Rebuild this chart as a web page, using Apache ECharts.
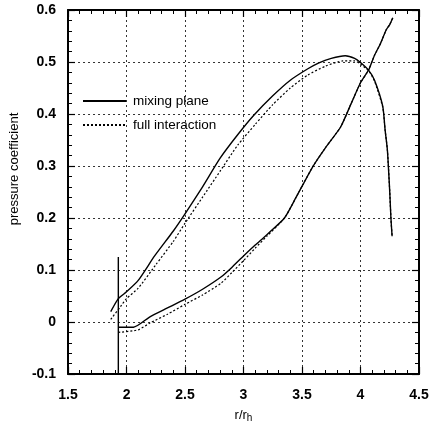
<!DOCTYPE html>
<html>
<head>
<meta charset="utf-8">
<script src="https://cdn.jsdelivr.net/npm/echarts@6/dist/echarts.min.js"></script>
<style>
  html, body { margin: 0; padding: 0; background: #fff; }
  #chart { width: 432px; height: 428px; }
</style>
</head>
<body>
<div id="chart"></div>
<script>
// tick values
var xTicks = [1.5, 2, 2.5, 3, 3.5, 4, 4.5];
var yTicks = [-0.1, 0, 0.1, 0.2, 0.3, 0.4, 0.5, 0.6];

// mixing plane - upper branch
var mixUpper = [
  [1.865, 0.02], [1.93, 0.045], [2.0, 0.058], [2.1, 0.08], [2.24, 0.127],
  [2.4, 0.175], [2.5, 0.208], [2.65, 0.26], [2.8, 0.315], [2.95, 0.36],
  [3.09, 0.398], [3.25, 0.435], [3.4, 0.465], [3.55, 0.487], [3.64, 0.498],
  [3.75, 0.507], [3.87, 0.512], [3.95, 0.507], [4.0, 0.499], [4.07, 0.484],
  [4.12, 0.465], [4.19, 0.415], [4.21, 0.37], [4.23, 0.33], [4.25, 0.25],
  [4.26, 0.2], [4.27, 0.165]
];
// mixing plane - lower branch
var mixLower = [
  [1.93, -0.01], [2.06, -0.01], [2.2, 0.01], [2.35, 0.027], [2.5, 0.044],
  [2.65, 0.063], [2.81, 0.087], [2.9, 0.105], [3.0, 0.127], [3.1, 0.148],
  [3.2, 0.168], [3.35, 0.2], [3.45, 0.24], [3.59, 0.298], [3.7, 0.335],
  [3.83, 0.375], [3.92, 0.42], [4.0, 0.46], [4.07, 0.485], [4.12, 0.513],
  [4.17, 0.535], [4.22, 0.562], [4.25, 0.572], [4.276, 0.585]
];
// spike at the inlet
var mixSpike = [[1.93, 0.125], [1.93, -0.1]];

// full interaction
var fullUpper = [
  [1.865, 0.005], [1.95, 0.03], [2.0, 0.045], [2.1, 0.065], [2.25, 0.11],
  [2.4, 0.155], [2.5, 0.19], [2.65, 0.24], [2.8, 0.29], [2.95, 0.34],
  [3.1, 0.38], [3.25, 0.418], [3.4, 0.45], [3.55, 0.475], [3.7, 0.492],
  [3.85, 0.502], [3.95, 0.502], [4.0, 0.496], [4.07, 0.483], [4.12, 0.463],
  [4.19, 0.413], [4.21, 0.37], [4.23, 0.33], [4.25, 0.25], [4.26, 0.2], [4.27, 0.165]
];
var fullLower = [
  [1.93, -0.02], [2.1, -0.015], [2.2, -0.002], [2.35, 0.015], [2.5, 0.034],
  [2.65, 0.052], [2.81, 0.075], [2.9, 0.095], [3.0, 0.118], [3.1, 0.142],
  [3.2, 0.165], [3.35, 0.2], [3.45, 0.24], [3.59, 0.298], [3.7, 0.335],
  [3.83, 0.375], [3.92, 0.42], [4.0, 0.46], [4.07, 0.485], [4.12, 0.513],
  [4.17, 0.535], [4.22, 0.562], [4.25, 0.572], [4.276, 0.585]
];

var font = "'Liberation Sans', Arial, sans-serif";

var mainAxisLine = { onZero: false, lineStyle: { color: '#000', width: 2 } };
var tick = { inside: true, length: 7, lineStyle: { color: '#000', width: 1.2 } };
var minor = { show: true, splitNumber: 5, length: 4, lineStyle: { color: '#000', width: 1 } };
var grid = { show: true, lineStyle: { color: '#333', width: 1, type: [2, 3] } };

var solid = { color: '#000', width: 1.4, type: 'solid' };
var dots = { color: '#000', width: 1.2, type: [2, 2] };

function line(name, data, style, smooth) {
  return {
    name: name, type: 'line', data: data, xAxisIndex: 0, yAxisIndex: 0,
    symbol: 'none', lineStyle: style, itemStyle: { color: '#000' },
    smooth: smooth, silent: true, animation: false, z: 3
  };
}

var chart = echarts.init(document.getElementById('chart'));
chart.setOption({
  backgroundColor: '#fff',
  animation: false,
  grid: { left: 58, right: 13, top: 10, bottom: 54 },
  legend: {
    orient: 'vertical', left: 77, top: 89,
    itemWidth: 43, itemHeight: 14, itemGap: 10,
    data: ['mixing plane', 'full interaction'],
    itemStyle: { opacity: 0 },
    textStyle: { fontFamily: font, fontSize: 13.5, color: '#000', padding: [0, 0, 0, 2] },
    selectedMode: false
  },
  xAxis: [{
    type: 'value', min: xTicks[0], max: xTicks[xTicks.length - 1], interval: 0.5,
    axisLine: mainAxisLine, axisTick: tick, minorTick: minor, splitLine: grid,
    axisLabel: { margin: 14, fontFamily: font, fontSize: 14, fontWeight: 'bold', color: '#000' },
    name: 'r/r{s|h}', nameLocation: 'middle', nameGap: 33,
    nameTextStyle: {
      fontFamily: font, fontSize: 13, color: '#000',
      rich: { s: { fontFamily: font, fontSize: 10, color: '#000', verticalAlign: 'bottom', padding: [6, 0, 0, 0] } }
    }
  }, {
    type: 'value', position: 'top', min: xTicks[0], max: xTicks[xTicks.length - 1], interval: 0.5,
    axisLine: mainAxisLine, axisTick: tick, minorTick: minor,
    splitLine: { show: false }, axisLabel: { show: false }
  }],
  yAxis: [{
    type: 'value', min: yTicks[0], max: yTicks[yTicks.length - 1], interval: 0.1,
    axisLine: mainAxisLine, axisTick: tick, minorTick: minor, splitLine: grid,
    axisLabel: { margin: 12, fontFamily: font, fontSize: 14, fontWeight: 'bold', color: '#000' },
    name: 'pressure coefficient', nameLocation: 'middle', nameGap: 36,
    nameTextStyle: { fontFamily: font, fontSize: 13, color: '#000', padding: [0, 0, 0, 46] }
  }, {
    type: 'value', position: 'right', min: yTicks[0], max: yTicks[yTicks.length - 1], interval: 0.1,
    axisLine: mainAxisLine, axisTick: tick, minorTick: minor,
    splitLine: { show: false }, axisLabel: { show: false }
  }],
  series: [
    line('mixing plane', mixUpper, solid, 0.2),
    line('mixing plane', mixLower, solid, 0.2),
    line('mixing plane', mixSpike, solid, false),
    line('full interaction', fullUpper, dots, 0.2),
    line('full interaction', fullLower, dots, 0.2)
  ]
});
</script>
</body>
</html>
